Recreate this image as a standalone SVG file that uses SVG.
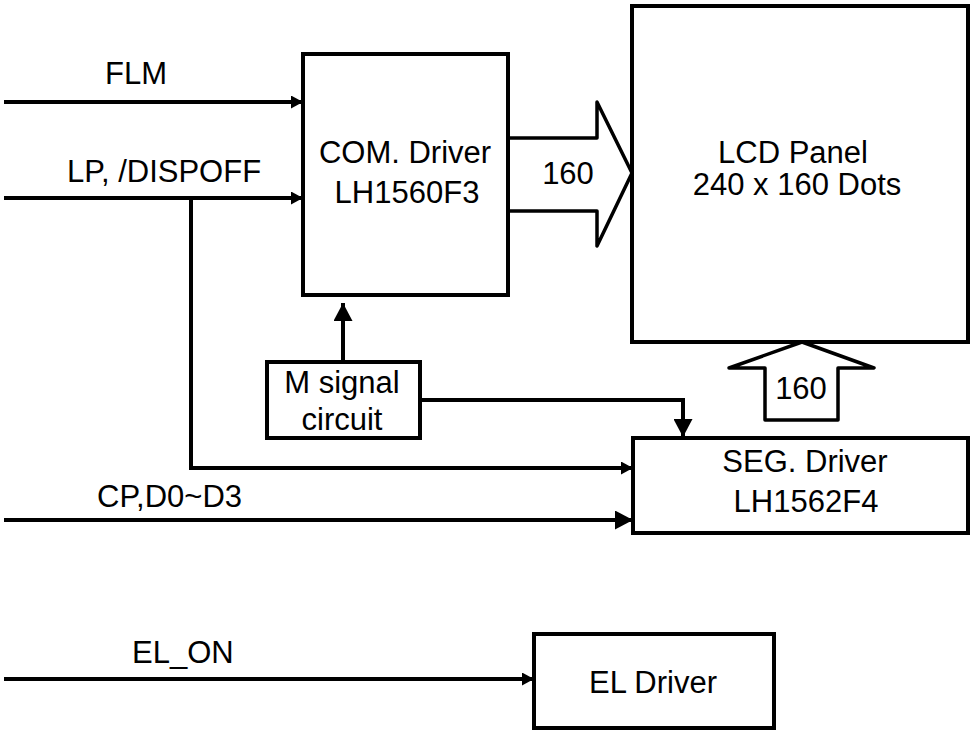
<svg xmlns="http://www.w3.org/2000/svg" width="971" height="731" viewBox="0 0 971 731">
<style>
.box{fill:#fff;stroke:#000;stroke-width:4}
.big{fill:#fff;stroke:#000;stroke-width:3.5;stroke-linejoin:round;stroke-linecap:round}
.ln{fill:none;stroke:#000;stroke-width:4}
text{font-family:"Liberation Sans",Arial,sans-serif;font-size:31px;fill:#000}
.c{text-anchor:middle}
</style>
<defs>
<marker id="ah" viewBox="0 0 12 13" refX="12" refY="6.5" markerWidth="12" markerHeight="13" markerUnits="userSpaceOnUse" orient="auto"><path d="M0,0 L12,6.5 L0,13 z" fill="#000"/></marker>
<marker id="ahL" viewBox="0 0 18 19" refX="18" refY="9.5" markerWidth="18" markerHeight="19" markerUnits="userSpaceOnUse" orient="auto"><path d="M0,0 L18,9.5 L0,19 z" fill="#000"/></marker>
</defs>
<rect width="971" height="731" fill="#fff"/>
<g id="connectors">
<line class="ln" x1="4" y1="102" x2="303" y2="102" marker-end="url(#ah)"/>
<line class="ln" x1="4" y1="198" x2="303" y2="198" marker-end="url(#ah)"/>
<polyline class="ln" points="191,198 191,468 633,468" marker-end="url(#ah)"/>
<line class="ln" x1="4" y1="520" x2="633" y2="520" marker-end="url(#ahL)"/>
<line class="ln" x1="343" y1="362" x2="343" y2="303" marker-end="url(#ahL)"/>
<polyline class="ln" points="420,400 683,400 683,437" marker-end="url(#ahL)"/>
<line class="ln" x1="4" y1="679" x2="534" y2="679" marker-end="url(#ah)"/>
<path id="bus-com" class="big" d="M508,138 L597,138 L597,102 L632,173 L597,246 L597,211 L508,211"/>
<path id="bus-seg" class="big" d="M765,420 L765,368 L729,368 L802,342 L874,368 L838,368 L838,420 Z"/>
<text class="c" x="568" y="184">160</text>
<text class="c" x="801" y="399">160</text>
<text x="105" y="84">FLM</text>
<text x="67" y="182">LP, /DISPOFF</text>
<text x="97" y="507">CP,D0~D3</text>
<text x="132" y="663">EL_ON</text>
</g>
<g id="com-driver">
<rect class="box" x="303" y="54" width="205" height="241"/>
<text class="c" x="405" y="163">COM. Driver</text>
<text class="c" x="407" y="203">LH1560F3</text>
</g>
<g id="lcd-panel">
<rect class="box" x="632" y="6" width="336" height="336"/>
<text class="c" x="793" y="163">LCD Panel</text>
<text class="c" x="797" y="195">240 x 160 Dots</text>
</g>
<g id="m-signal">
<rect class="box" x="267" y="362" width="153" height="76"/>
<text class="c" x="342" y="393">M signal</text>
<text class="c" x="342" y="430">circuit</text>
</g>
<g id="seg-driver">
<rect class="box" x="633" y="438" width="335" height="95"/>
<text class="c" x="805" y="472">SEG. Driver</text>
<text class="c" x="806" y="512">LH1562F4</text>
</g>
<g id="el-driver">
<rect class="box" x="534" y="634" width="240" height="94"/>
<text class="c" x="653" y="693">EL Driver</text>
</g>
</svg>
